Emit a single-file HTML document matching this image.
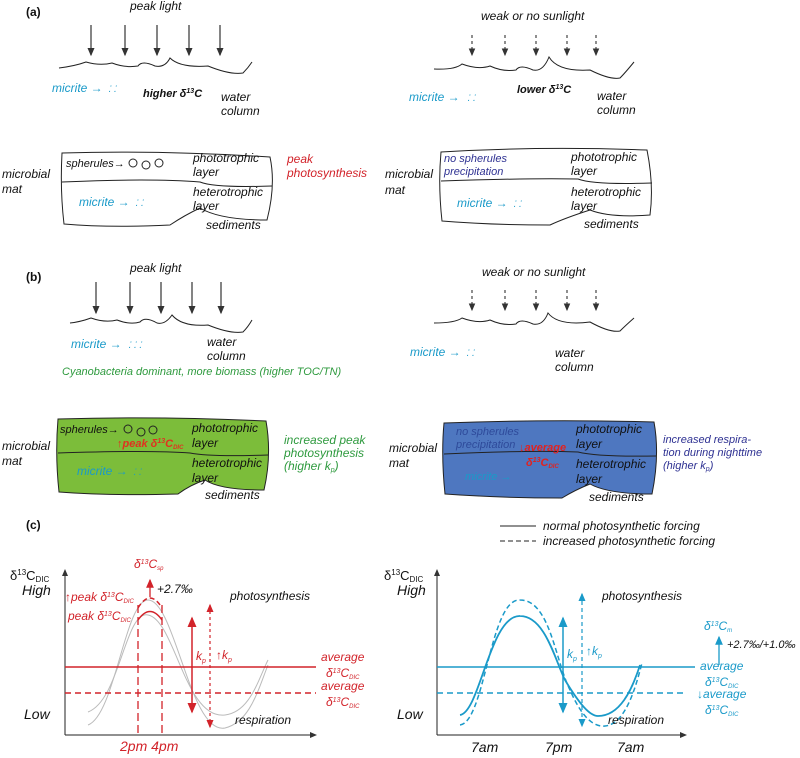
<!DOCTYPE html>
<html><head><meta charset="utf-8"><style>
body{margin:0;background:#fff}
svg{display:block;font-family:"Liberation Sans",sans-serif;font-style:italic}
.n{font-style:normal}
</style></head><body>
<svg width="800" height="758" viewBox="0 0 800 758">
<defs>
<marker id="ak" markerWidth="8" markerHeight="8" refX="6" refY="4" orient="auto"><path d="M0,1L7,4L0,7z" fill="#333"/></marker>
<marker id="ar" markerWidth="8" markerHeight="8" refX="6" refY="4" orient="auto-start-reverse"><path d="M0,1L7,4L0,7z" fill="#d2232a"/></marker>
<marker id="ac" markerWidth="8" markerHeight="8" refX="6" refY="4" orient="auto-start-reverse"><path d="M0,1L7,4L0,7z" fill="#1a9ac9"/></marker>
</defs>
<g font-size="12" fill="#111">
<!-- (a) -->
<text x="26" y="16" class="n" font-weight="bold" font-size="12">(a)</text>
<text x="130" y="10">peak light</text>
<g stroke="#333" stroke-width="1.2" marker-end="url(#ak)">
<line x1="91" y1="25" x2="91" y2="55"/><line x1="125" y1="25" x2="125" y2="55"/><line x1="157" y1="25" x2="157" y2="55"/><line x1="189" y1="25" x2="189" y2="55"/><line x1="220" y1="25" x2="220" y2="55"/></g>
<path d="M59,68 Q75,66 86,62 Q100,66 112,63 Q125,68 138,66 Q142,60 155,66 Q165,68 170,58 Q180,68 208,66 Q230,75 243,73 Q248,68 252,62" fill="none" stroke="#222"/>
<text x="52" y="92" fill="#1a9ac9">micrite →</text>
<text x="108" y="92" fill="#1a9ac9" font-size="9">⁚ ⁚</text>
<text x="143" y="97" font-weight="bold" font-size="11">higher δ<tspan font-size="7" dy="-4">13</tspan><tspan dy="4">C</tspan></text>
<text x="221" y="101">water</text><text x="221" y="115">column</text>
<path d="M62,153 Q160,150 270,157 Q276,185 267,220 Q220,220 200,208 Q185,215 170,225 Q110,228 64,224 Q60,190 62,153z" fill="none" stroke="#222"/>
<path d="M62,182 Q150,178 200,182 Q215,188 272,186" fill="none" stroke="#222"/>
<text x="2" y="178">microbial</text><text x="2" y="193">mat</text>
<text x="66" y="167" font-size="11">spherules→</text>
<circle cx="133" cy="163" r="4" fill="none" stroke="#222"/><circle cx="146" cy="165" r="4" fill="none" stroke="#222"/><circle cx="159" cy="163" r="4" fill="none" stroke="#222"/>
<text x="193" y="162">phototrophic</text><text x="193" y="176">layer</text>
<text x="193" y="196">heterotrophic</text><text x="193" y="210">layer</text>
<text x="206" y="229">sediments</text>
<text x="287" y="163" fill="#d2232a">peak</text><text x="287" y="177" fill="#d2232a">photosynthesis</text>
<text x="79" y="206" fill="#1a9ac9">micrite →</text><text x="135" y="206" fill="#1a9ac9" font-size="9">⁚ ⁚</text>

<text x="481" y="20">weak or no sunlight</text>
<g stroke="#333" stroke-width="1.1" stroke-dasharray="3,3" marker-end="url(#ak)">
<line x1="472" y1="35" x2="472" y2="55"/><line x1="505" y1="35" x2="505" y2="55"/><line x1="536" y1="35" x2="536" y2="55"/><line x1="567" y1="35" x2="567" y2="55"/><line x1="596" y1="35" x2="596" y2="55"/></g>
<path d="M434,69 Q455,70 462,64 Q478,70 490,66 Q503,72 516,70 Q520,64 533,70 Q543,72 549,57 Q558,72 590,70 Q610,80 620,78 Q625,73 634,62" fill="none" stroke="#222"/>
<text x="409" y="101" fill="#1a9ac9">micrite →</text><text x="467" y="101" fill="#1a9ac9" font-size="9">⁚ ⁚</text>
<text x="517" y="93" font-weight="bold" font-size="11">lower δ<tspan font-size="7" dy="-4">13</tspan><tspan dy="4">C</tspan></text>
<text x="597" y="100">water</text><text x="597" y="114">column</text>
<path d="M441,152 Q540,146 647,150 Q654,185 650,215 Q610,218 590,210 Q565,218 550,225 Q490,225 442,221 Q438,185 441,152z" fill="none" stroke="#222"/>
<path d="M441,181 Q530,178 578,179 Q594,185 652,183" fill="none" stroke="#222"/>
<text x="385" y="178">microbial</text><text x="385" y="194">mat</text>
<text x="444" y="162" fill="#2e3192" font-size="11">no spherules</text><text x="444" y="175" fill="#2e3192" font-size="11">precipitation</text>
<text x="571" y="161">phototrophic</text><text x="571" y="175">layer</text>
<text x="571" y="196">heterotrophic</text><text x="571" y="210">layer</text>
<text x="584" y="228">sediments</text>
<text x="457" y="207" fill="#1a9ac9">micrite →</text><text x="513" y="207" fill="#1a9ac9" font-size="9">⁚ ⁚</text>

<!-- (b) -->
<text x="26" y="281" class="n" font-weight="bold" font-size="12">(b)</text>
<text x="130" y="272">peak light</text>
<g stroke="#333" stroke-width="1.2" marker-end="url(#ak)">
<line x1="96" y1="282" x2="96" y2="313"/><line x1="130" y1="282" x2="130" y2="313"/><line x1="161" y1="282" x2="161" y2="313"/><line x1="192" y1="282" x2="192" y2="313"/><line x1="221" y1="282" x2="221" y2="313"/></g>
<path d="M70,323 Q80,322 91,318 Q105,323 117,320 Q130,325 140,322 Q145,316 157,323 Q165,325 172,315 Q182,327 208,325 Q230,334 243,332 Q248,327 252,320" fill="none" stroke="#222"/>
<text x="71" y="348" fill="#1a9ac9">micrite →</text><text x="128" y="348" fill="#1a9ac9" font-size="9">⁚ ⁚ ⁚</text>
<text x="207" y="346">water</text><text x="207" y="360">column</text>
<text x="62" y="375" fill="#2e9a3e" font-size="11">Cyanobacteria dominant, more biomass (higher TOC/TN)</text>
<text x="482" y="276">weak or no sunlight</text>
<g stroke="#333" stroke-width="1.1" stroke-dasharray="3,3" marker-end="url(#ak)">
<line x1="472" y1="290" x2="472" y2="310"/><line x1="505" y1="290" x2="505" y2="310"/><line x1="536" y1="290" x2="536" y2="310"/><line x1="567" y1="290" x2="567" y2="310"/><line x1="596" y1="290" x2="596" y2="310"/></g>
<path d="M434,323 Q455,323 462,318 Q478,324 490,320 Q503,326 516,324 Q520,318 533,324 Q543,326 548,313 Q558,326 590,322 Q610,333 620,331 Q625,326 634,318" fill="none" stroke="#222"/>
<text x="410" y="356" fill="#1a9ac9">micrite →</text><text x="466" y="356" fill="#1a9ac9" font-size="9">⁚ ⁚</text>
<text x="555" y="357">water</text><text x="555" y="371">column</text>

<path d="M58,419 Q160,416 266,421 Q272,455 264,490 Q220,490 205,480 Q190,485 178,494 Q110,496 59,492 Q55,455 58,419z" fill="#7cbd3a" stroke="#222"/>
<path d="M58,453 Q150,450 190,453 Q210,457 268,455" fill="none" stroke="#222"/>
<text x="2" y="450">microbial</text><text x="2" y="465">mat</text>
<text x="60" y="433" font-size="11">spherules→</text>
<circle cx="128" cy="429" r="4" fill="none" stroke="#222"/><circle cx="141" cy="432" r="4" fill="none" stroke="#222"/><circle cx="153" cy="430" r="4" fill="none" stroke="#222"/>
<text x="117" y="447" fill="#e0321f" font-weight="bold" font-size="11">↑peak δ<tspan font-size="7" dy="-4">13</tspan><tspan dy="4">C</tspan><tspan font-size="6" dy="2">DIC</tspan></text>
<text x="192" y="432">phototrophic</text><text x="192" y="447">layer</text>
<text x="192" y="467">heterotrophic</text><text x="192" y="482">layer</text>
<text x="205" y="499">sediments</text>
<text x="77" y="475" fill="#1a9ac9">micrite →</text><text x="133" y="475" fill="#1a9ac9" font-size="9">⁚ ⁚</text>
<text x="284" y="444" fill="#2e9a3e">increased peak</text><text x="284" y="457" fill="#2e9a3e">photosynthesis</text><text x="284" y="470" fill="#2e9a3e">(higher k<tspan font-size="7" dy="2">p</tspan><tspan dy="-2">)</tspan></text>

<path d="M444,423 Q550,419 654,422 Q660,455 652,494 Q608,494 590,484 Q575,490 562,498 Q500,498 445,494 Q441,455 444,423z" fill="#4e77c0" stroke="#222"/>
<path d="M444,454 Q530,450 578,452 Q598,457 656,456" fill="none" stroke="#222"/>
<text x="389" y="452">microbial</text><text x="389" y="467">mat</text>
<text x="456" y="435" fill="#2e4a9a" font-size="11">no spherules</text><text x="456" y="448" fill="#2e4a9a" font-size="11">precipitation</text>
<text x="519" y="451" fill="#e0221f" font-weight="bold" font-size="11">↓average</text>
<text x="526" y="466" fill="#e0221f" font-weight="bold" font-size="11">δ<tspan font-size="7" dy="-4">13</tspan><tspan dy="4">C</tspan><tspan font-size="6" dy="2">DIC</tspan></text>
<text x="576" y="433">phototrophic</text><text x="576" y="448">layer</text>
<text x="576" y="468">heterotrophic</text><text x="576" y="483">layer</text>
<text x="589" y="501">sediments</text>
<text x="465" y="480" fill="#1a9ac9" font-size="11">micrite →</text>
<text x="663" y="443" fill="#2e3192" font-size="11">increased respira-</text><text x="663" y="456" fill="#2e3192" font-size="11">tion during nighttime</text><text x="663" y="469" fill="#2e3192" font-size="11">(higher k<tspan font-size="7" dy="2">p</tspan><tspan dy="-2">)</tspan></text>

<!-- (c) -->
<text x="26" y="529" class="n" font-weight="bold" font-size="12">(c)</text>
<line x1="500" y1="526" x2="536" y2="526" stroke="#222"/><text x="543" y="530">normal photosynthetic forcing</text>
<line x1="500" y1="541" x2="536" y2="541" stroke="#222" stroke-dasharray="5,3"/><text x="543" y="545">increased photosynthetic forcing</text>

<text x="10" y="580" class="n" font-size="13">δ<tspan font-size="8" dy="-5">13</tspan><tspan dy="5">C</tspan><tspan font-size="8" dy="2">DIC</tspan></text>
<text x="22" y="595" font-size="14">High</text><text x="24" y="719" font-size="14">Low</text>
<line x1="65" y1="735" x2="65" y2="570" stroke="#222" marker-end="url(#ak)"/>
<line x1="65" y1="735" x2="316" y2="735" stroke="#222" marker-end="url(#ak)"/>
<path d="M88,712 C120,700 125,610 148,615 C175,620 185,720 225,715 C250,712 258,680 268,660" fill="none" stroke="#bbb"/>
<path d="M88,725 C115,715 125,600 148,600 C175,600 190,735 225,728 C250,722 258,690 268,665" fill="none" stroke="#bbb"/>
<line x1="65" y1="667" x2="316" y2="667" stroke="#d2232a" stroke-width="1.5"/>
<line x1="65" y1="693" x2="316" y2="693" stroke="#d2232a" stroke-width="1.5" stroke-dasharray="6,4"/>
<path d="M138,620 Q150,603 162,620" fill="none" stroke="#d2232a" stroke-width="1.5"/>
<path d="M138,608 Q150,588 162,608" fill="none" stroke="#d2232a" stroke-width="1.5" stroke-dasharray="5,3"/>
<line x1="138" y1="605" x2="138" y2="735" stroke="#d2232a" stroke-width="1.3" stroke-dasharray="8,4"/>
<line x1="162" y1="605" x2="162" y2="735" stroke="#d2232a" stroke-width="1.3" stroke-dasharray="8,4"/>
<line x1="192" y1="618" x2="192" y2="712" stroke="#d2232a" stroke-width="1.5" marker-start="url(#ar)" marker-end="url(#ar)"/>
<line x1="210" y1="605" x2="210" y2="727" stroke="#d2232a" stroke-width="1.2" stroke-dasharray="3,3" marker-start="url(#ar)" marker-end="url(#ar)"/>
<line x1="150" y1="597" x2="150" y2="580" stroke="#d2232a" stroke-width="1.3" marker-end="url(#ar)"/>
<text x="134" y="568" fill="#d2232a">δ<tspan font-size="7" dy="-4">13</tspan><tspan dy="4">C</tspan><tspan font-size="6" dy="2">sp</tspan></text>
<text x="157" y="593">+2.7‰</text>
<text x="65" y="601" fill="#d2232a">↑peak δ<tspan font-size="7" dy="-4">13</tspan><tspan dy="4">C</tspan><tspan font-size="6" dy="2">DIC</tspan></text>
<text x="68" y="620" fill="#d2232a">peak δ<tspan font-size="7" dy="-4">13</tspan><tspan dy="4">C</tspan><tspan font-size="6" dy="2">DIC</tspan></text>
<text x="196" y="660" fill="#d2232a">k<tspan font-size="7" dy="3">p</tspan></text>
<text x="216" y="659" fill="#d2232a">↑k<tspan font-size="7" dy="3">p</tspan></text>
<text x="230" y="600">photosynthesis</text><text x="235" y="724">respiration</text>
<text x="321" y="661" fill="#d2232a">average</text><text x="326" y="677" fill="#d2232a">δ<tspan font-size="7" dy="-4">13</tspan><tspan dy="4">C</tspan><tspan font-size="6" dy="2">DIC</tspan></text>
<text x="321" y="690" fill="#d2232a">average</text><text x="326" y="706" fill="#d2232a">δ<tspan font-size="7" dy="-4">13</tspan><tspan dy="4">C</tspan><tspan font-size="6" dy="2">DIC</tspan></text>
<text x="120" y="751" fill="#d2232a" font-size="14">2pm 4pm</text>

<text x="384" y="580" class="n" font-size="13">δ<tspan font-size="8" dy="-5">13</tspan><tspan dy="5">C</tspan><tspan font-size="8" dy="2">DIC</tspan></text>
<text x="397" y="595" font-size="14">High</text><text x="397" y="719" font-size="14">Low</text>
<line x1="437" y1="735" x2="437" y2="570" stroke="#222" marker-end="url(#ak)"/>
<line x1="437" y1="735" x2="686" y2="735" stroke="#222" marker-end="url(#ak)"/>
<line x1="437" y1="667" x2="695" y2="667" stroke="#1a9ac9" stroke-width="1.5"/>
<line x1="437" y1="693" x2="687" y2="693" stroke="#1a9ac9" stroke-width="1.5" stroke-dasharray="6,4"/>
<path d="M460,715 C480,712 490,615 520,616 C545,616 555,660 565,680 C580,705 590,716 598,716 C620,716 632,690 640,665" fill="none" stroke="#1a9ac9" stroke-width="1.8"/>
<path d="M460,725 C485,722 490,598 520,600 C550,600 555,660 570,690 C583,720 595,727 605,726 C625,724 635,690 642,663" fill="none" stroke="#1a9ac9" stroke-width="1.5" stroke-dasharray="5,3"/>
<line x1="563" y1="618" x2="563" y2="712" stroke="#1a9ac9" stroke-width="1.5" marker-start="url(#ac)" marker-end="url(#ac)"/>
<line x1="582" y1="594" x2="582" y2="726" stroke="#1a9ac9" stroke-width="1.2" stroke-dasharray="4,3" marker-start="url(#ac)" marker-end="url(#ac)"/>
<text x="567" y="658" fill="#1a9ac9">k<tspan font-size="7" dy="3">p</tspan></text>
<text x="586" y="655" fill="#1a9ac9">↑k<tspan font-size="7" dy="3">p</tspan></text>
<text x="602" y="600">photosynthesis</text><text x="608" y="724">respiration</text>
<text x="471" y="752" font-size="14">7am</text><text x="545" y="752" font-size="14">7pm</text><text x="617" y="752" font-size="14">7am</text>
<text x="704" y="630" fill="#1a9ac9">δ<tspan font-size="7" dy="-4">13</tspan><tspan dy="4">C</tspan><tspan font-size="6" dy="2">m</tspan></text>
<line x1="719" y1="665" x2="719" y2="637" stroke="#1a9ac9" stroke-width="1.3" marker-end="url(#ac)"/>
<text x="727" y="648" font-size="11">+2.7‰/+1.0‰</text>
<text x="700" y="670" fill="#1a9ac9">average</text><text x="705" y="686" fill="#1a9ac9">δ<tspan font-size="7" dy="-4">13</tspan><tspan dy="4">C</tspan><tspan font-size="6" dy="2">DIC</tspan></text>
<text x="697" y="698" fill="#1a9ac9">↓average</text><text x="705" y="714" fill="#1a9ac9">δ<tspan font-size="7" dy="-4">13</tspan><tspan dy="4">C</tspan><tspan font-size="6" dy="2">DIC</tspan></text>
</g>
</svg>
</body></html>
